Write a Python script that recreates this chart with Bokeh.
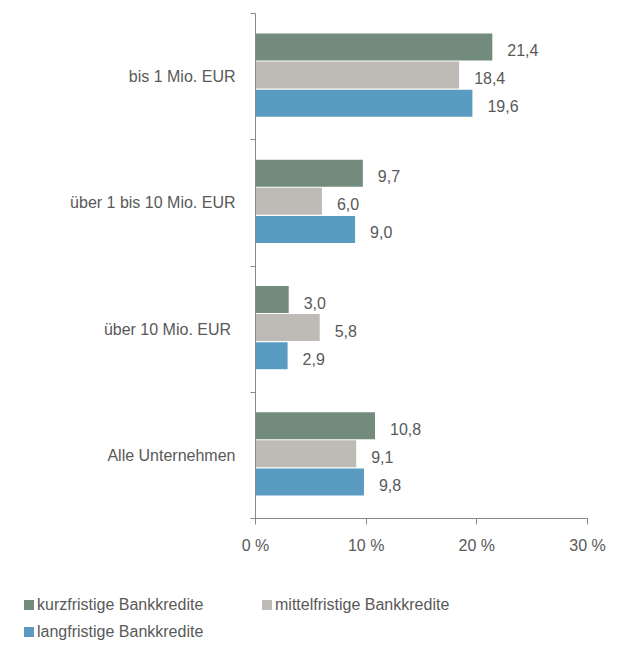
from bokeh.plotting import figure
from bokeh.models import Range1d, FixedTicker, ColumnDataSource, Div
from bokeh.layouts import column
from bokeh.core.properties import value
from bokeh.embed import file_html
from bokeh.resources import INLINE

categories = ["bis 1 Mio. EUR", "über 1 bis 10 Mio. EUR", "über 10  Mio. EUR", "Alle Unternehmen"]
series_names = ["kurzfristige Bankkredite", "mittelfristige Bankkredite", "langfristige Bankkredite"]
kurz = [21.4, 9.7, 3.0, 10.8]
mittel = [18.4, 6.0, 5.8, 9.1]
lang = [19.6, 9.0, 2.9, 9.8]
x_ticks = [0, 10, 20, 30]
x_tick_labels = ["0 %", "10 %", "20 %", "30 %"]

colors = ["#728B7D", "#BEBAB6", "#599BC1"]
FONT = "Liberation Sans"
TXT = "#595959"
AX = "#898989"

n = len(categories)
centers = [n - 0.5 - i for i in range(n)]

p = figure(frame_width=332, frame_height=505, output_backend="svg", toolbar_location=None,
           x_range=Range1d(0, 30), y_range=Range1d(0, n),
           min_border_left=255, min_border_right=35, min_border_top=13, min_border_bottom=67)
p.outline_line_color = None
p.grid.grid_line_color = None
p.background_fill_color = "white"

offsets = [0.222, 0.0, -0.222]
for vals, off, col in zip([kurz, mittel, lang], offsets, colors):
    src = ColumnDataSource(dict(
        y=[c + off + 0.012 for c in centers],
        right=vals,
        lab=[f"{v:.1f}".replace(".", ",") for v in vals],
    ))
    p.hbar(y="y", right="right", left=0, height=0.214, source=src,
           fill_color=col, line_color=None)
    p.text(x="right", y="y", text="lab", source=src, x_offset=15, y_offset=3,
           text_font=value(FONT), text_font_size="16px", text_color=TXT,
           text_baseline="middle", text_align="left")

# x axis
xa = p.xaxis[0]
xa.ticker = FixedTicker(ticks=x_ticks)
xa.major_label_overrides = {t: l for t, l in zip(x_ticks, x_tick_labels)}
xa.major_label_text_font = FONT
xa.major_label_text_font_size = "16px"
xa.major_label_text_color = TXT
xa.axis_line_color = AX
xa.major_tick_line_color = AX
xa.major_tick_out = 6
xa.major_tick_in = 0
xa.minor_tick_line_color = None
xa.major_label_standoff = 12

# y axis
ya = p.yaxis[0]
ya.ticker = FixedTicker(ticks=centers, minor_ticks=list(range(n + 1)))
ya.major_label_overrides = {c: cat for c, cat in zip(centers, categories)}
ya.major_label_text_font = FONT
ya.major_label_text_font_size = "16px"
ya.major_label_text_color = TXT
ya.axis_line_color = AX
ya.major_tick_line_color = None
ya.major_tick_out = 0
ya.major_tick_in = 0
ya.minor_tick_line_color = AX
ya.minor_tick_out = 5
ya.minor_tick_in = 0
ya.major_label_standoff = 15

# legend strip (two columns, wraps to a second row)
def item(name, col, w):
    return (f'<span style="display:inline-block;width:{w}px;white-space:nowrap">'
            f'<span style="display:inline-block;width:10px;height:10px;background:{col};'
            f'margin-right:3px"></span>{name}</span>')

rows = []
for i in range(0, len(series_names), 2):
    rows.append("".join(item(nm, c, 238) for nm, c in zip(series_names[i:i + 2], colors[i:i + 2])))
html = (f'<div style="font-family:\'{FONT}\';font-size:16px;color:{TXT};line-height:27px;'
        f'padding-top:6px;padding-left:24px;">' + "<br>".join(rows) + "</div>")
leg = Div(text=html, width=622, height=65, margin=0)

layout = column(p, leg, spacing=0)
open("out.html", "w").write(file_html(layout, INLINE))
